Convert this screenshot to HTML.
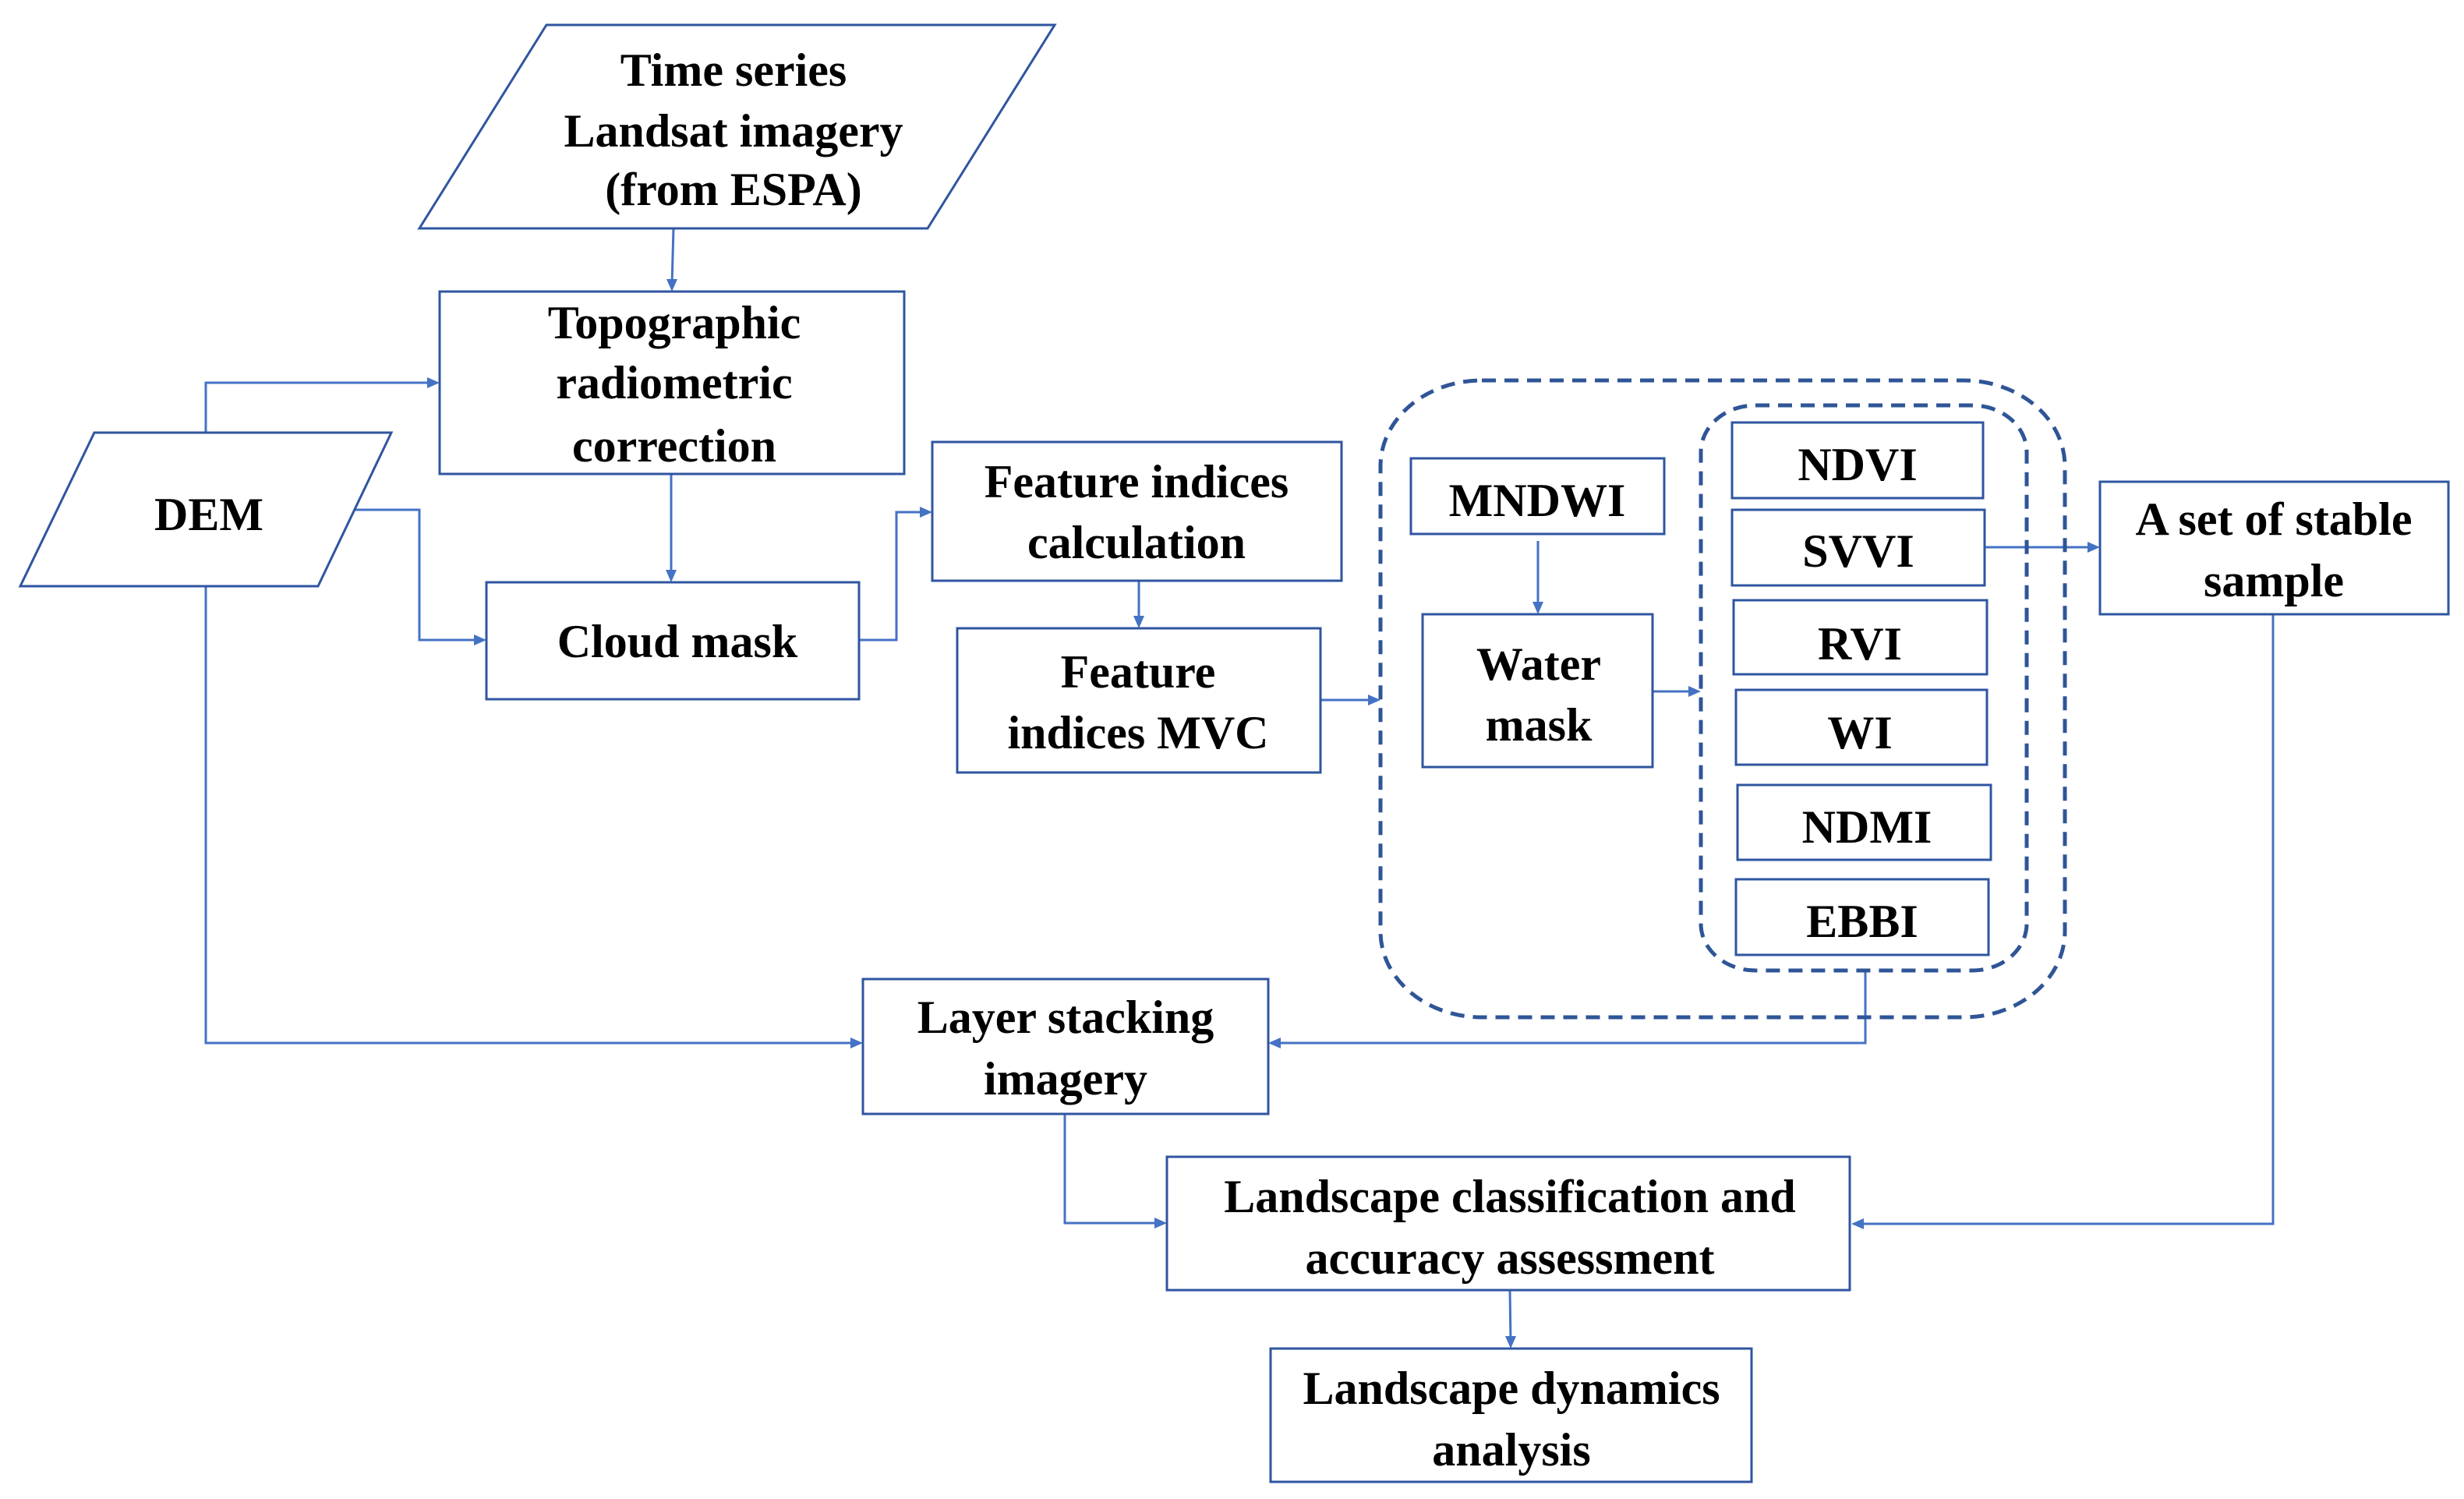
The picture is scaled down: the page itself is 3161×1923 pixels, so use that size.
<!DOCTYPE html>
<html><head><meta charset="utf-8"><style>
html,body{margin:0;padding:0;background:#fff;}
svg{display:block}
text{font-family:"Liberation Serif","Times New Roman","DejaVu Serif",serif;font-weight:bold;font-size:60px;fill:#000;text-anchor:middle}
</style></head><body>
<svg width="3161" height="1923" viewBox="0 0 3161 1923" xmlns="http://www.w3.org/2000/svg">
<g fill="none" stroke="#4472C4" stroke-width="3">
<polyline points="864,293 862,366"/>
<polyline points="264,555 264,491 556,491"/>
<polyline points="456,654 538,654 538,821 616,821"/>
<polyline points="861,608 861,739"/>
<polyline points="1102,821 1150,821 1150,657 1188,657"/>
<polyline points="1461,745 1461,798"/>
<polyline points="1694,898 1763,898"/>
<polyline points="1973,694 1973,780"/>
<polyline points="2120,887 2174,887"/>
<polyline points="2546,702 2686,702"/>
<polyline points="2916,788 2916,1570 2383,1570"/>
<polyline points="2393,1245 2393,1338 1635,1338"/>
<polyline points="264,752 264,1338 1099,1338"/>
<polyline points="1366,1429 1366,1569 1489,1569"/>
<polyline points="1937,1655 1938,1722"/>
</g>
<g fill="#4472C4">
<polygon points="862,374 855,358 869,358"/>
<polygon points="564,491 548,484 548,498"/>
<polygon points="624,821 608,814 608,828"/>
<polygon points="861,747 854,731 868,731"/>
<polygon points="1196,657 1180,650 1180,664"/>
<polygon points="1461,806 1454,790 1468,790"/>
<polygon points="1771,898 1755,891 1755,905"/>
<polygon points="1973,788 1966,772 1980,772"/>
<polygon points="2182,887 2166,880 2166,894"/>
<polygon points="2694,702 2678,695 2678,709"/>
<polygon points="2375,1570 2391,1563 2391,1577"/>
<polygon points="1627,1338 1643,1331 1643,1345"/>
<polygon points="1107,1338 1091,1331 1091,1345"/>
<polygon points="1497,1569 1481,1562 1481,1576"/>
<polygon points="1938,1730 1931,1714 1945,1714"/>
</g>
<g fill="none" stroke="#2F5597" stroke-width="5" stroke-dasharray="18,11">
<rect x="1771" y="488" width="878" height="817" rx="130" ry="110"/>
<rect x="2182" y="520" width="418" height="725" rx="70" ry="60"/>
</g>
<g fill="#fff" stroke="#2F55A0" stroke-width="3">
<polygon points="701,32 1353,32 1190,293 538,293"/>
<polygon points="121,555 502,555 408,752 26,752"/>
<rect x="564" y="374" width="596" height="234"/>
<rect x="624" y="747" width="478" height="150"/>
<rect x="1196" y="567" width="525" height="178"/>
<rect x="1228" y="806" width="466" height="185"/>
<rect x="1810" y="588" width="325" height="97"/>
<rect x="1825" y="788" width="295" height="196"/>
<rect x="2222" y="542" width="322" height="97"/>
<rect x="2222" y="654" width="324" height="97"/>
<rect x="2224" y="770" width="325" height="95"/>
<rect x="2227" y="885" width="322" height="96"/>
<rect x="2229" y="1007" width="325" height="96"/>
<rect x="2227" y="1128" width="324" height="97"/>
<rect x="2694" y="618" width="447" height="170"/>
<rect x="1107" y="1256" width="520" height="173"/>
<rect x="1497" y="1484" width="876" height="171"/>
<rect x="1630" y="1730" width="617" height="171"/>
</g>
<text x="941" y="110">Time series</text>
<text x="941" y="188">Landsat imagery</text>
<text x="941" y="263">(from ESPA)</text>
<text x="865" y="434">Topographic</text>
<text x="865" y="511">radiometric</text>
<text x="865" y="592">correction</text>
<text x="268" y="680">DEM</text>
<text x="869" y="843">Cloud mask</text>
<text x="1458" y="638">Feature indices</text>
<text x="1458" y="716">calculation</text>
<text x="1460" y="882">Feature</text>
<text x="1460" y="960">indices MVC</text>
<text x="1972" y="662">MNDWI</text>
<text x="1974" y="872">Water</text>
<text x="1974" y="950">mask</text>
<text x="2383" y="616">NDVI</text>
<text x="2384" y="727">SVVI</text>
<text x="2386" y="846">RVI</text>
<text x="2386" y="960">WI</text>
<text x="2395" y="1081">NDMI</text>
<text x="2389" y="1202">EBBI</text>
<text x="2917" y="686">A set of stable</text>
<text x="2917" y="765">sample</text>
<text x="1367" y="1325">Layer stacking</text>
<text x="1367" y="1404">imagery</text>
<text x="1937" y="1555">Landscape classification and</text>
<text x="1937" y="1634">accuracy assessment</text>
<text x="1939" y="1801">Landscape dynamics</text>
<text x="1939" y="1880">analysis</text>
</svg>
</body></html>
